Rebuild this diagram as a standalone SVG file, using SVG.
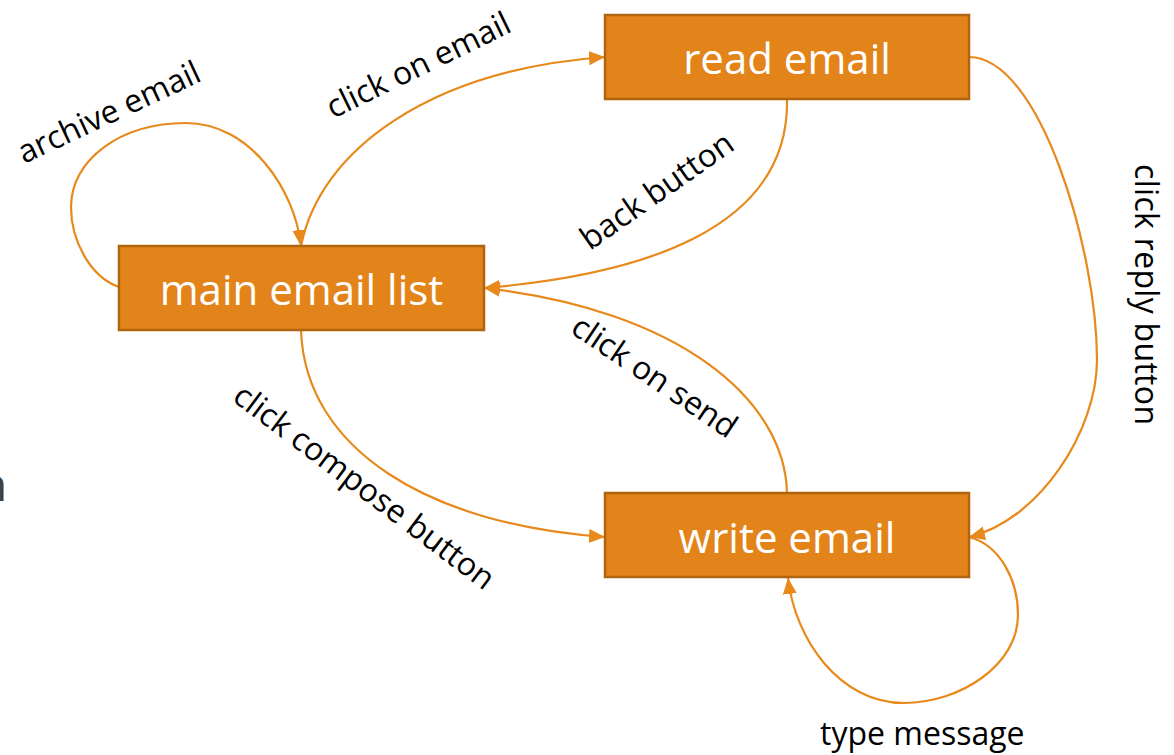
<svg xmlns="http://www.w3.org/2000/svg" width="1174" height="755" viewBox="0 0 1174 755">
  <style>
    .node rect { fill: #E3841A; stroke: #B0640F; stroke-width: 2.5; }
    .node text { fill: #FFFFFF; font-family: "Open Sans", "Liberation Sans", sans-serif; font-size: 42px; text-anchor: middle; }
    .edge { fill: none; stroke: #E8891C; stroke-width: 2.2; marker-end: url(#arrow); }
    .label { fill: #000000; font-family: "Open Sans", "Liberation Sans", sans-serif; font-size: 32px; }
    .frag { fill: #404040; font-family: "Open Sans", "Liberation Sans", sans-serif; font-size: 46px; }
  </style>
  <defs>
    <marker id="arrow" markerUnits="userSpaceOnUse" markerWidth="18" markerHeight="16" refX="16" refY="7" orient="auto" viewBox="0 0 18 16">
      <path d="M0,0 L16,7 L0,14 z" fill="#E8891C"/>
    </marker>
  </defs>
  <rect width="1174" height="755" fill="#FFFFFF"/>

  <text class="frag" x="-21" y="501">n</text>

  <g id="connectors">
    <path class="edge" d="M119,287 C 90,277 71,240 71,207 C 71,160 120,123 186,123 C 250,123 295,190 301,246"/>
    <path class="edge" d="M301,246 C 320,150 430,70 605,57"/>
    <path class="edge" d="M787,99 C 790,230 640,275 484,288"/>
    <path class="edge" d="M787,493 C 785,400 680,310 484,288"/>
    <path class="edge" d="M301,330 C 305,450 430,525 605,537"/>
    <path class="edge" d="M969,57 C 1040,57 1097,250 1097,360 C 1097,430 1040,520 969,537"/>
    <path class="edge" d="M969,537 C 1000,545 1018,580 1018,615 C 1018,665 960,703 904,703 C 840,703 795,640 788,578"/>
  </g>

  <g id="labels">
    <text class="label" transform="translate(24,164) rotate(-25)">archive email</text>
    <text class="label" transform="translate(333,119) rotate(-26)">click on email</text>
    <text class="label" transform="translate(590,251) rotate(-35)">back button</text>
    <text class="label" transform="translate(569,332) rotate(34)">click on send</text>
    <text class="label" transform="translate(231,400) rotate(37)">click compose button</text>
    <text class="label" transform="translate(1135,164) rotate(90)" textLength="261" lengthAdjust="spacing">click reply button</text>
    <text class="label" x="820" y="745">type message</text>
  </g>

  <g id="node-main" class="node">
    <rect x="119" y="246" width="365" height="84"/>
    <text x="301.5" y="305">main email list</text>
  </g>
  <g id="node-read" class="node">
    <rect x="605" y="15" width="364" height="84"/>
    <text x="787" y="74">read email</text>
  </g>
  <g id="node-write" class="node">
    <rect x="605" y="493" width="364" height="84"/>
    <text x="787" y="553">write email</text>
  </g>
</svg>
